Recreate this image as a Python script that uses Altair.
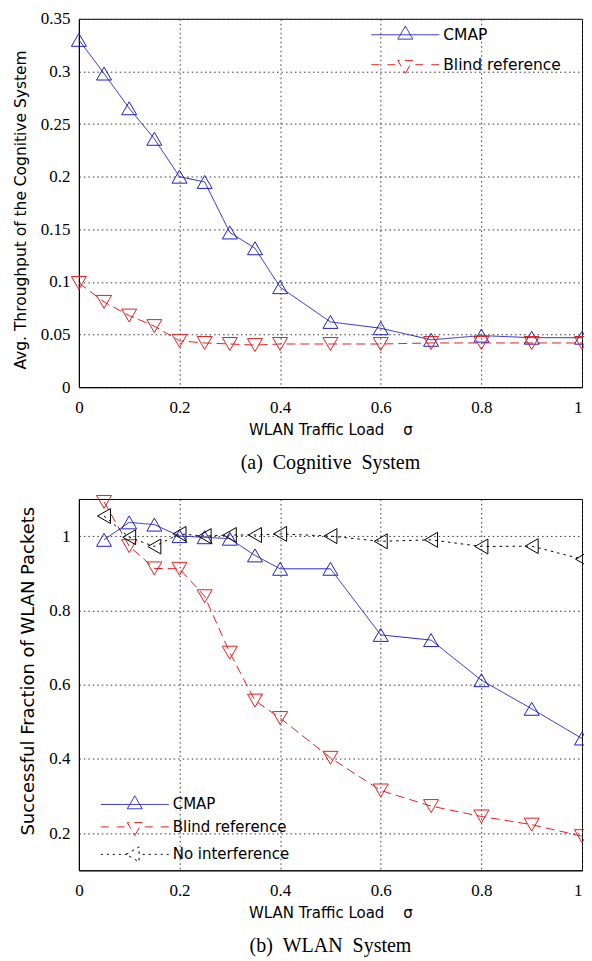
import altair as alt
import pandas as pd

# ---------------- data ----------------
series_top = ["CMAP", "Blind reference"]
x_top = [0, 0.05, 0.1, 0.15, 0.2, 0.25, 0.3, 0.35, 0.4, 0.5, 0.6, 0.7, 0.8, 0.9, 1.0]
cmap_top = [0.330, 0.298, 0.265, 0.236, 0.200, 0.195, 0.147, 0.132, 0.095, 0.062, 0.056, 0.045, 0.049, 0.047, 0.047]
blind_top = [0.099, 0.081, 0.068, 0.058, 0.044, 0.042, 0.041, 0.040, 0.041, 0.041, 0.041, 0.042, 0.042, 0.042, 0.042]

series_bot = ["CMAP", "Blind reference", "No interference"]
x_bot = [0.05, 0.1, 0.15, 0.2, 0.25, 0.3, 0.35, 0.4, 0.5, 0.6, 0.7, 0.8, 0.9, 1.0]
cmap_bot = [0.990, 1.037, 1.031, 1.000, 0.997, 0.993, 0.948, 0.912, 0.912, 0.734, 0.720, 0.612, 0.535, 0.455]
blind_bot = [1.092, 0.973, 0.913, 0.912, 0.838, 0.686, 0.557, 0.510, 0.403, 0.315, 0.273, 0.245, 0.223, 0.192]
noint_bot = [1.054, 0.997, 0.972, 1.006, 1.000, 1.003, 1.003, 1.006, 1.000, 0.986, 0.990, 0.972, 0.973, 0.938]

x_ticks = [0, 0.2, 0.4, 0.6, 0.8, 1.0]
y_ticks_top = [0, 0.05, 0.1, 0.15, 0.2, 0.25, 0.3, 0.35]
y_ticks_bot = [0.2, 0.4, 0.6, 0.8, 1.0]

x_title = "WLAN Traffic Load\u00a0\u00a0\u00a0\u00a0\u03c3"
y_title_top = "Avg. Throughput of the Cognitive System"
y_title_bot = "Successful Fraction of WLAN Packets"
caption_top = "(a)\u00a0\u00a0Cognitive\u00a0\u00a0System"
caption_bot = "(b)\u00a0\u00a0WLAN\u00a0\u00a0System"

# ---------------- styles ----------------
COLORS = {"CMAP": "#2020c4", "Blind reference": "#e02020", "No interference": "#000000"}
DASHES = {"CMAP": [1, 0], "Blind reference": [9, 5], "No interference": [2.5, 4]}
MARKERS = {"CMAP": "triangle-up", "Blind reference": "triangle-down", "No interference": "triangle-left"}
MSIZE = 225
U = 7.5  # half symbol width in px for custom legend paths
TICK_FONT = "Liberation Serif"

TRI = {
    "CMAP": "M0,-1.155L1,0.577L-1,0.577Z",
    "Blind reference": "M0,1.155L1,-0.577L-1,-0.577Z",
    "No interference": "M-1.155,0L0.577,-1L0.577,1Z",
}
SEGS = {
    "CMAP": [(-34, 34)],
    "Blind reference": [(-34, -26), (-18, -10), (10, 18), (26, 34)],
    "No interference": [(-34, -32), (-28, -26), (-22, -20), (-16, -14), (-10, -8),
                        (8, 10), (14, 16), (20, 22), (26, 28), (32, 34)],
}


def legend_path(s):
    p = "".join(f"M{a / U:.3f},0H{b / U:.3f}" for a, b in SEGS[s])
    return p + TRI[s]


def long_df(series, xs, ys_list):
    rows = []
    for s, ys in zip(series, ys_list):
        for x, y in zip(xs, ys):
            rows.append({"series": s, "x": x, "y": y})
    return pd.DataFrame(rows)


X_LABEL_ALIGN = {"condition": {"test": "datum.value >= 1", "value": "right"}, "value": "center"}


def panel(df, series, ydomain, yticks, ytitle, ytitle_y, ytitle_size, ytitle_pad,
          width, height, caption, leg_x, leg_y, leg_font, leg_rowpad):
    cscale = alt.Scale(domain=series, range=[COLORS[s] for s in series])
    dscale = alt.Scale(domain=series, range=[DASHES[s] for s in series])
    xscale = alt.Scale(domain=[0, 1], nice=False, zero=False)
    yscale = alt.Scale(domain=ydomain, nice=False, zero=False)
    xaxis = alt.Axis(values=x_ticks, format="~g", title=x_title, labelPadding=12,
                     titlePadding=7, labelFont=TICK_FONT, labelFontSize=17, labelFlush=False,
                     labelAlign=X_LABEL_ALIGN)
    yaxis = alt.Axis(values=yticks, format="~g", title=ytitle, labelPadding=9,
                     titlePadding=ytitle_pad, titleY=ytitle_y, titleFontSize=ytitle_size,
                     labelFont=TICK_FONT, labelFontSize=17)
    X = alt.X("x:Q", scale=xscale, axis=xaxis)
    Y = alt.Y("y:Q", scale=yscale, axis=yaxis)
    leg = alt.Legend(title=None, orient="none", legendX=leg_x, legendY=leg_y,
                     labelFont="DejaVu Sans", labelFontSize=leg_font, labelColor="black",
                     labelOffset=30, symbolStrokeWidth=1, symbolSize=MSIZE, symbolOpacity=1,
                     rowPadding=leg_rowpad, padding=0, labelLimit=300)
    C = alt.Color("series:N", scale=cscale, legend=leg)

    base = alt.Chart(df)
    lines = base.mark_line(strokeWidth=1).encode(
        x=X, y=Y, color=C,
        strokeDash=alt.StrokeDash("series:N", scale=dscale, legend=None),
        detail="series:N",
    )
    layers = [lines]
    for s in series:
        layers.append(
            base.transform_filter(alt.datum.series == s)
            .mark_point(shape=MARKERS[s], size=MSIZE, filled=False, strokeWidth=1, opacity=1)
            .encode(x=X, y=Y, color=C)
        )
    legend_df = pd.DataFrame({"series": series})
    legend_layer = alt.Chart(legend_df).mark_point(
        size=MSIZE, filled=False, strokeWidth=1, opacity=0
    ).encode(
        x=alt.value(width / 2), y=alt.value(height / 2),
        color=C,
        shape=alt.Shape("series:N", scale=alt.Scale(domain=series, range=[legend_path(s) for s in series]),
                        legend=leg),
    )
    layers.append(legend_layer)
    return alt.layer(*layers).properties(
        width=width, height=height,
        title=alt.TitleParams(caption, orient="bottom", anchor="middle", font="Liberation Serif",
                              fontSize=20, fontWeight="normal", color="black", offset=16),
    )


df_top = long_df(series_top, x_top, [cmap_top, blind_top])
df_bot = long_df(series_bot, x_bot, [cmap_bot, blind_bot, noint_bot])

top = panel(df_top, series_top, [0, 0.35], y_ticks_top, y_title_top, 191, 15.5, 12,
            504, 369, caption_top, 319, 8, 15.5, 13)
bot = panel(df_bot, series_bot, [0.1, 1.1], y_ticks_bot, y_title_bot, 172, 18, 11,
            504, 372, caption_bot, 48, 298, 15, 6.5)

chart = alt.vconcat(top, bot, spacing=18).resolve_scale(
    color="independent", shape="independent", strokeDash="independent", x="independent", y="independent"
).properties(
    padding={"left": 4, "top": 0, "right": -8, "bottom": 0}
).configure_view(
    stroke="black", strokeWidth=1
).configure_axis(
    domainColor="black", domainWidth=1, labelColor="black", titleColor="black",
    ticks=False, tickSize=0, grid=True, gridColor="#333333", gridDash=[1.5, 3], gridWidth=1,
    labelFont=TICK_FONT, labelFontSize=17, titleFont="DejaVu Sans", titleFontSize=15,
    titleFontWeight="normal",
)

chart.save("out.html", embed_options={"renderer": "svg", "actions": False})
